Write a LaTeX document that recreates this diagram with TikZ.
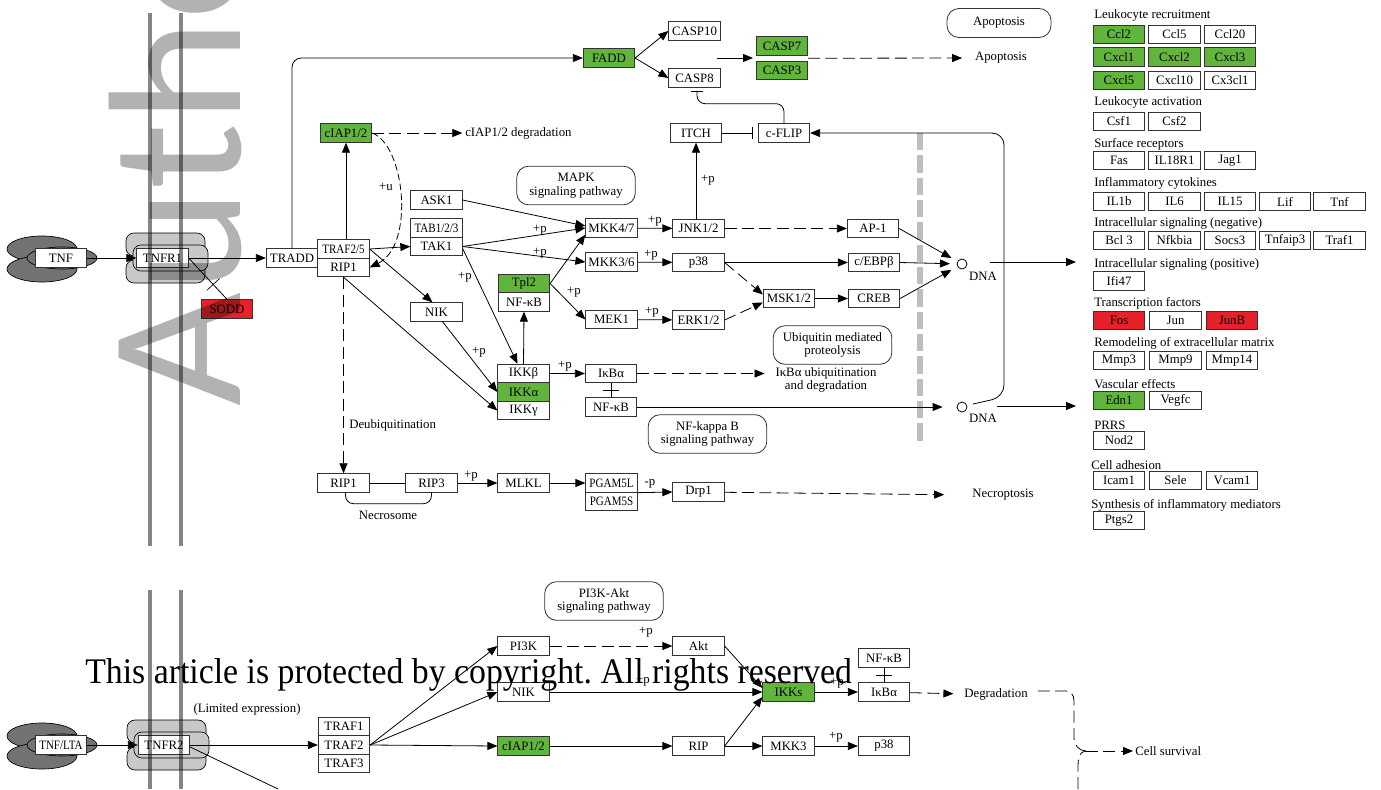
\documentclass[tikz,border=0pt]{standalone}
\usepackage{fontspec}
\setmainfont{Liberation Serif}
\newfontfamily\wmfont{Carlito}
\usetikzlibrary{arrows.meta,calc}
\definecolor{kgreen}{RGB}{98,181,60}
\definecolor{kred}{RGB}{230,33,41}
\definecolor{recgray}{RGB}{200,200,200}
\definecolor{ligdark}{RGB}{115,115,115}
\definecolor{sepgray}{RGB}{190,190,190}
\newcommand\kf{\fontsize{9.6}{10}\selectfont}
\newcommand\nrw[1]{\scalebox{0.86}[1]{#1}}
\frenchspacing
\begin{document}
\begin{tikzpicture}[x=0.75pt,y=-0.75pt,
  gene/.style={draw=black!80, line width=0.6pt, rectangle, inner sep=0pt, minimum width=38.6pt, minimum height=13.9pt, font=\kf, fill=white},
  gg/.style={gene, fill=kgreen},
  gr/.style={gene, fill=kred},
  lbl/.style={font=\kf, inner sep=0pt},
  pbox/.style={draw=black!80, line width=0.6pt, rounded corners=9pt, align=center, font=\kf, inner sep=0pt, minimum width=89pt, minimum height=29pt},
  arr/.style={-{Triangle[length=7.5pt,width=6pt]}, line width=0.6pt},
  darr/.style={arr, dash pattern=on 9pt off 4pt},
  dsh/.style={line width=0.6pt, dash pattern=on 9pt off 4pt},
  inh/.style={-{Bar[width=9pt]}, line width=0.6pt},
  ln/.style={line width=0.6pt},
  dna/.style={circle, draw, line width=0.6pt, fill=white, minimum size=7.5pt, inner sep=0pt},
  rec/.style={draw=black, line width=0.5pt, fill=recgray, rounded corners=6pt},
  lig/.style={draw=black, line width=0.5pt, fill=ligdark},
]
\useasboundingbox (0,0) rectangle (1381,789);
\fill[white] (0,0) rectangle (1381,789);

% ---------- ligands and receptors ----------
\foreach \dy in {0,487}{
  \begin{scope}[shift={(0,\dy)}]
    \draw[lig] (42,249) ellipse [x radius=26.25pt, y radius=9.75pt];
    \draw[lig] (42,269) ellipse [x radius=26.25pt, y radius=9.75pt];
    \draw[lig] (62,258) ellipse [x radius=26.25pt, y radius=8.25pt];
  \end{scope}
}
\foreach \dx/\dy in {0/0,1/487}{
  \begin{scope}[shift={(\dx,\dy)}]
    \draw[rec] (126,233) rectangle (205,256);
    \draw[rec] (126,260) rectangle (205,283);
    \draw[rec] (133,245) rectangle (208,271);
  \end{scope}
}

% separator
\draw[sepgray, line width=4.5pt, dash pattern=on 13pt off 3.75pt] (920,133) -- (920,442);

% ---------- top nodes ----------
\node[gene] (tnf) at (61,258) {TNF};
\node[gene] (tnfr1) at (162.5,258) {TNFR1};
\node[gr] (sodd) at (227,309) {SODD};
\node[gene] (tradd) at (292,258) {TRADD};
\node[gene] (traf25) at (343.5,249) {\nrw{TRAF2/5}};
\node[gene] (rip1) at (343.5,267.5) {RIP1};
\node[gg] (fadd) at (609,58) {FADD};
\node[gene] (casp10) at (694.5,31) {CASP10};
\node[gene] (casp8) at (694.5,78) {CASP8};
\node[gg] (casp7) at (782,46) {CASP7};
\node[gg] (casp3) at (782,70.5) {CASP3};
\node[lbl] (apopt) at (1001,58) {Apoptosis};
\node[pbox, minimum width=78pt, minimum height=21.75pt] (apobox) at (999,23) {Apoptosis};
\node[gg] (ciapA) at (346,133) {cIAP1/2};
\node[lbl, anchor=west] (ciapdeg) at (465,133) {cIAP1/2 degradation};
\node[gene] (itch) at (696,133) {ITCH};
\node[gene] (cflip) at (784,133) {c-FLIP};
\node[gene] (ask1) at (436.5,200) {ASK1};
\node[gene] (tab) at (436.5,228) {\nrw{TAB1/2/3}};
\node[gene] (tak1) at (436.5,246.5) {TAK1};
\node[gene] (nik) at (436.5,312) {NIK};
\node[gg] (tpl2) at (524,283.5) {Tpl2};
\node[gene] (nfkbT) at (524,302) {NF-κB};
\node[gene] (ikkb) at (523.5,373.5) {IKKβ};
\node[gg] (ikka) at (523.5,392) {IKKα};
\node[gene] (ikkg) at (523.5,410.5) {IKKγ};
\node[gene] (ikba) at (611,373.5) {IκBα};
\node[gene] (nfkb) at (611,407) {NF-κB};
\node[gene] (mkk47) at (611.5,228) {MKK4/7};
\node[gene] (mkk36) at (611.5,262) {MKK3/6};
\node[gene] (mek1) at (611.5,319.5) {MEK1};
\node[gene] (jnk) at (698.5,228.5) {JNK1/2};
\node[gene] (p38) at (698.5,262.5) {p38};
\node[gene] (erk) at (698.5,320) {ERK1/2};
\node[gene] (ap1) at (873,228.5) {AP-1};
\node[gene] (cebp) at (874,262.5) {c/EBPβ};
\node[gene] (msk) at (789,298.5) {MSK1/2};
\node[gene] (creb) at (874,298.5) {CREB};
\node[dna] (dnaU) at (962,264) {};
\node[lbl] (dnaUt) at (983,276) {DNA};
\node[dna] (dnaL) at (962,407) {};
\node[lbl] (dnaLt) at (983,418) {DNA};
\node[pbox] (mapk) at (576,185.5) {MAPK\\signaling pathway};
\node[pbox] (ubbox) at (832.5,345) {Ubiquitin mediated\\proteolysis};
\node[pbox] (nfkbbox) at (707.5,434) {NF-kappa B\\signaling pathway};
\node[lbl, align=center] (ubtxt) at (826,380) {IκBα ubiquitination\\and degradation};
\node[gene] (rip1b) at (343.5,483) {RIP1};
\node[gene] (rip3) at (431.5,483) {RIP3};
\node[gene] (mlkl) at (523.5,483) {MLKL};
\node[gene] (pgam5l) at (611.5,483) {\nrw{PGAM5L}};
\node[gene] (pgam5s) at (611.5,501.5) {\nrw{PGAM5S}};
\node[gene] (drp1) at (698.5,492) {Drp1};
\node[lbl] (necro) at (1003,495) {Necroptosis};
\node[lbl, anchor=west] (deub) at (349,425) {Deubiquitination};
\node[lbl] (necsome) at (388,515) {Necrosome};

% ---------- bottom nodes ----------
\node[gene] (tnflta) at (61,745) {\nrw{TNF/LTA}};
\node[gene] (tnfr2) at (164,745) {TNFR2};
\node[lbl] (limexp) at (247,709) {(Limited expression)};
\node[gene] (traf1) at (344,726.5) {TRAF1};
\node[gene] (traf2) at (344,745) {TRAF2};
\node[gene] (traf3) at (344,763.5) {TRAF3};
\node[gene] (pi3k) at (523.5,646) {PI3K};
\node[gene] (nikB) at (523.5,692) {NIK};
\node[gg] (ciapB) at (523.5,746) {cIAP1/2};
\node[gene] (akt) at (698.5,646) {Akt};
\node[gene] (rip) at (698.5,746) {RIP};
\node[gg] (ikks) at (788.5,692) {IKKs};
\node[gene] (mkk3) at (788.5,746) {MKK3};
\node[gene] (ikbaB) at (884,692) {IκBα};
\node[gene] (nfkbB) at (884,658) {NF-κB};
\node[gene] (p38B) at (884,746) {p38};
\node[lbl] (degr) at (996,694) {Degradation};
\node[lbl, anchor=west] (cellsurv) at (1135,751) {Cell survival};
\node[pbox] (pi3kbox) at (604,601) {PI3K-Akt\\signaling pathway};

% ---------- right panel ----------
\node[lbl,anchor=west] at (1094,15) {Leukocyte recruitment};
\node[gg] (ccl2) at (1119,34.5) {Ccl2};
\node[gene] (ccl5) at (1174.5,34.5) {Ccl5};
\node[gene] (ccl20) at (1230,34.5) {Ccl20};
\node[gg] (cxcl1) at (1119,57) {Cxcl1};
\node[gg] (cxcl2) at (1174.5,57) {Cxcl2};
\node[gg] (cxcl3) at (1230,57) {Cxcl3};
\node[gg] (cxcl5) at (1119,80.5) {Cxcl5};
\node[gene] (cxcl10) at (1174.5,80.5) {Cxcl10};
\node[gene] (cx3cl1) at (1230,80.5) {Cx3cl1};
\node[lbl,anchor=west] at (1094,102) {Leukocyte activation};
\node[gene] (csf1) at (1119,121.5) {Csf1};
\node[gene] (csf2) at (1174.5,121.5) {Csf2};
\node[lbl,anchor=west] at (1094,144) {Surface receptors};
\node[gene] (fas) at (1119,160.5) {Fas};
\node[gene] (il18r1) at (1174.5,160.5) {IL18R1};
\node[gene] (jag1) at (1230,160.5) {Jag1};
\node[lbl,anchor=west] at (1094,183) {Inflammatory cytokines};
\node[gene] (il1b) at (1119,201.5) {IL1b};
\node[gene] (il6) at (1174.5,201.5) {IL6};
\node[gene] (il15) at (1230,201.5) {IL15};
\node[gene] (lif) at (1285,201.5) {Lif};
\node[gene] (tnfo) at (1339.5,201.5) {Tnf};
\node[lbl,anchor=west] at (1094,223) {Intracellular signaling (negative)};
\node[gene] (bcl3) at (1119,240.5) {Bcl 3};
\node[gene] (nfkbia) at (1174.5,240.5) {Nfkbia};
\node[gene] (socs3) at (1230,240.5) {Socs3};
\node[gene] (tnfaip3) at (1285,240.5) {Tnfaip3};
\node[gene] (traf1o) at (1339.5,240.5) {Traf1};
\node[lbl,anchor=west] at (1094,264) {Intracellular signaling (positive)};
\node[gene] (ifi47) at (1119,281) {Ifi47};
\node[lbl,anchor=west] at (1094,303) {Transcription factors};
\node[gr] (fos) at (1119,320.5) {Fos};
\node[gene] (jun) at (1175.5,320.5) {Jun};
\node[gr] (junb) at (1232,320.5) {JunB};
\node[lbl,anchor=west] at (1094,343) {Remodeling of extracellular matrix};
\node[gene] (mmp3) at (1119,360.5) {Mmp3};
\node[gene] (mmp9) at (1175.5,360.5) {Mmp9};
\node[gene] (mmp14) at (1232,360.5) {Mmp14};
\node[lbl,anchor=west] at (1094,384) {Vascular effects};
\node[gg] (edn1) at (1119,400.5) {Edn1};
\node[gene] (vegfc) at (1175.5,400.5) {Vegfc};
\node[lbl,anchor=west] at (1094,425) {PRRS};
\node[gene] (nod2) at (1119,440.5) {Nod2};
\node[lbl,anchor=west] at (1091,465) {Cell adhesion};
\node[gene] (icam1) at (1119,480.5) {Icam1};
\node[gene] (sele) at (1175.5,480.5) {Sele};
\node[gene] (vcam1) at (1232,480.5) {Vcam1};
\node[lbl,anchor=west] at (1091,505) {Synthesis of inflammatory mediators};
\node[gene] (ptgs2) at (1119,520.5) {Ptgs2};

% ---------- coordinates ----------
\coordinate (c78src) at (717,58);
\coordinate (c78) at (753,58);
\coordinate (outU) at (1076,262);
\coordinate (outL) at (1076,406);
\coordinate (offb) at (278,789);
\coordinate (jn) at (1086,751);
\coordinate (botsrc) at (1078,789);

% ---------- top connectors ----------
\draw[arr] (tnf) -- (tnfr1);
\draw[arr] (tnfr1) -- (tradd);
\draw[ln] (tnfr1.east) -- node[pos=0.64, sloped, draw, line width=0.5pt, minimum width=0pt, minimum height=13pt, inner sep=0pt]{} (sodd.north);
\draw[arr, rounded corners=7pt] (tradd.north) |- (fadd.west);
\draw[arr] (fadd.east) -- (casp10.west);
\draw[arr] (fadd.east) -- (casp8.west);
\draw[arr] (c78src) -- (c78);
\draw[darr, shorten >=9.5pt] ($(casp7.south east)!0.5!(casp3.north east)$) -- (apopt.west);
\draw[inh, shorten >=3.5pt] (itch) -- (cflip);
\draw[inh, rounded corners=6pt] (cflip.north) |- ($(casp8.south)+(2.5,16)$) -- ($(casp8.south)+(2.5,3)$);
\draw[arr] (jnk.north -| itch.south) -- (itch.south);
\draw[arr, rounded corners=9pt] ($(dnaL)+(11,-3)$) -- ($(dnaL)+(42,-10)$) |- (cflip.east);
\draw[arr] (ciapA.south |- traf25.north) -- (ciapA.south);
\draw[darr, shorten >=2pt] (ciapA) -- (ciapdeg.west);
\draw[arr, dash pattern=on 5pt off 2.5pt] (ciapA.east) .. controls (405,145) and (415,245) .. (rip1.east);
\draw[arr] (traf25.east) -- (tak1.west);
\draw[arr] (traf25.east) -- ($(nik.north)+(-4,0)$);
\draw[arr] (rip1.south) -- (ikkg.west);
\draw[arr] ($(nik.south)+(6,0)$) -- (ikka.west);
\draw[arr] ($(tak1.east)+(0,2)$) -- ($(ikkb.north)+(-6,0)$);
\draw[arr] (tak1.east) -- (mkk47.west);
\draw[arr] (tak1.east) -- (mkk36.west);
\draw[arr] (ask1.east) -- ($(mkk47.west)+(0,-2)$);
\draw[arr] (tpl2.east) -- ($(mkk47.south west)+(0,-3)$);
\draw[arr] (tpl2.east) -- (mek1.west);
\draw[arr] (ikkb.north) -- (nfkbT.south);
\draw[arr] (ikkb) -- (ikba);
\draw[ln] (ikba.south) -- (nfkb.north);
\draw[ln] ($(ikba.south)!0.5!(nfkb.north)+(-8,0)$) -- ($(ikba.south)!0.5!(nfkb.north)+(8,0)$);
\draw[darr, shorten >=8pt] (ikba.east) -- (ubtxt.west |- ikba.east);
\draw[arr, shorten >=10.5pt] (nfkb.east) -- (dnaL.west);
\draw[arr] (mkk47) -- (jnk);
\draw[arr] (mkk36) -- (p38);
\draw[arr] (mek1) -- (erk);
\draw[darr] (jnk) -- (ap1);
\draw[arr] (p38) -- (cebp);
\draw[darr] (p38.east) -- ($(msk.west)+(0,-4)$);
\draw[darr] (erk.east) -- ($(msk.west)+(0,4)$);
\draw[arr] (msk) -- (creb);
\draw[arr, shorten >=5pt] (ap1.east) -- (dnaU);
\draw[arr, shorten >=5pt] (cebp.east) -- (dnaU);
\draw[arr, shorten >=5pt] (creb.east) -- (dnaU);
\draw[arr] ($(dnaU)+(28,-2)$) -- (outU);
\draw[arr] ($(dnaL)+(35,-1)$) -- (outL);
\draw[darr] (rip1.south) -- (rip1b.north);
\draw[ln] (rip1b) -- (rip3);
\draw[ln, rounded corners=6pt] ($(rip1b.south)+(2,0)$) |- ($(rip3.south)+(0,11)$) -- (rip3.south);
\draw[arr] (rip3) -- (mlkl);
\draw[arr] (mlkl) -- (pgam5l);
\draw[arr] (pgam5l.south east) -- (drp1.west);
\draw[darr, shorten >=21pt] (drp1) -- (necro.west);

% labels
\node[lbl] at (708,180) {+p};
\node[lbl] at (386,187) {+u};
\node[lbl] at (479,352) {+p};
\node[lbl] at (465,277) {+p};
\node[lbl] at (540,230) {+p};
\node[lbl] at (540,253) {+p};
\node[lbl] at (574,292) {+p};
\node[lbl] at (655,221) {+p};
\node[lbl] at (651,255) {+p};
\node[lbl] at (652,312) {+p};
\node[lbl] at (565,366) {+p};
\node[lbl] at (471,476) {+p};
\node[lbl] at (650,484) {-p};

% ---------- bottom connectors ----------
\draw[arr] (tnflta) -- (tnfr2);
\draw[arr] (tnfr2) -- (traf2);
\draw[ln] ($(tnfr2.east)+(0,2)$) -- (offb);
\draw[arr] (traf2.east) -- (pi3k.west);
\draw[arr] (traf2.east) -- (nikB.west);
\draw[arr] (traf2.east) -- (ciapB.west);
\draw[darr] (pi3k) -- (akt);
\draw[arr] (nikB) -- (ikks);
\draw[arr] (akt.east) -- ($(ikks.west)+(0,-4)$);
\draw[arr] (ciapB) -- (rip);
\draw[arr] (rip.east) -- ($(ikks.west)+(0,5)$);
\draw[arr] (rip) -- (mkk3);
\draw[arr] (mkk3) -- (p38B);
\draw[arr] (ikks) -- (ikbaB);
\draw[ln] (ikbaB.north) -- (nfkbB.south);
\draw[ln] ($(ikbaB.north)!0.5!(nfkbB.south)+(-8,0)$) -- ($(ikbaB.north)!0.5!(nfkbB.south)+(8,0)$);
\draw[darr, shorten >=8pt] (ikbaB) -- (degr.west);
\draw[dsh] ($(degr.east)+(10,-3)$) -- ++(28,0) to[out=0,in=90] ++(8,9) -- ++(0,38) to[out=-90,in=180] (jn);
\draw[dsh] (botsrc) -- ++(0,-24) to[out=90,in=180] (jn);
\draw[darr, shorten >=1.5pt] (jn) -- (cellsurv.west);
\node[lbl] at (646,632) {+p};
\node[lbl] at (643,681) {+p};
\node[lbl] at (837,683) {+p};
\node[lbl] at (836,737) {+p};

% ---------- watermark ----------
\draw[line width=3.2pt, draw opacity=0.48] (150,13) -- (150,546);
\draw[line width=3.2pt, draw opacity=0.48] (181,13) -- (181,546);
\draw[line width=3.2pt, draw opacity=0.48] (150,590) -- (150,789);
\draw[line width=3.2pt, draw opacity=0.48] (181,590) -- (181,789);
\node[rotate=90, anchor=base west, inner sep=0pt, text opacity=0.3, font=\wmfont\fontsize{142}{142}\selectfont] (wm) at (240,407) {\scalebox{1.04}[1]{Author}};
\node[anchor=base west, inner sep=0pt] (copyr) at (85,683) {\resizebox{575pt}{18.75pt}{\fontsize{20}{20}\selectfont This article is protected by copyright. All rights reserved}};
\end{tikzpicture}
\end{document}
